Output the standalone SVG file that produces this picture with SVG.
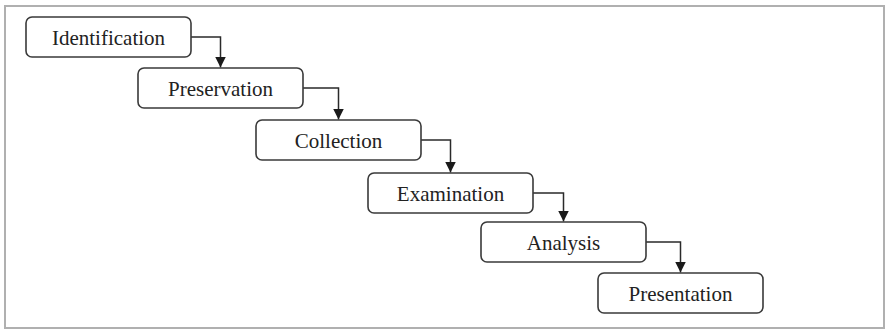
<svg xmlns="http://www.w3.org/2000/svg" width="887" height="331" viewBox="0 0 887 331">
<style>
.box{fill:#fff;stroke:#3a3a3a;stroke-width:1.6}
.lbl{font-family:"Liberation Serif","Times New Roman",serif;font-size:21px;fill:#222;text-anchor:middle}
.con{fill:none;stroke:#2a2a2a;stroke-width:1.5}
</style>
<defs>
<marker id="ah" markerWidth="12" markerHeight="12" refX="11" refY="6" orient="auto" markerUnits="userSpaceOnUse">
<path d="M0,0.5 L11,6 L0,11.5 Z" fill="#1a1a1a"/>
</marker>
</defs>
<rect x="5" y="6" width="879" height="322" fill="#fff" stroke="#b0b0b0" stroke-width="2"/>
<g id="connectors">
<path class="con" d="M191,37 H220.5 V67.5" marker-end="url(#ah)"/>
<path class="con" d="M303,88 H338.5 V119.5" marker-end="url(#ah)"/>
<path class="con" d="M421,140 H450.5 V172.5" marker-end="url(#ah)"/>
<path class="con" d="M533,193 H563.5 V221.5" marker-end="url(#ah)"/>
<path class="con" d="M646,242 H680.5 V272.5" marker-end="url(#ah)"/>
</g>
<g id="identification"><rect class="box" x="26" y="17" width="165" height="40" rx="6"/><text class="lbl" x="108.5" y="44.5">Identification</text></g>
<g id="preservation"><rect class="box" x="138" y="68" width="165" height="40" rx="6"/><text class="lbl" x="220.5" y="95.5">Preservation</text></g>
<g id="collection"><rect class="box" x="256" y="120" width="165" height="40" rx="6"/><text class="lbl" x="338.5" y="147.5">Collection</text></g>
<g id="examination"><rect class="box" x="368" y="173" width="165" height="40" rx="6"/><text class="lbl" x="450.5" y="200.5">Examination</text></g>
<g id="analysis"><rect class="box" x="481" y="222" width="165" height="40" rx="6"/><text class="lbl" x="563.5" y="249.5">Analysis</text></g>
<g id="presentation"><rect class="box" x="598" y="273" width="165" height="40" rx="6"/><text class="lbl" x="680.5" y="300.5">Presentation</text></g>
</svg>
